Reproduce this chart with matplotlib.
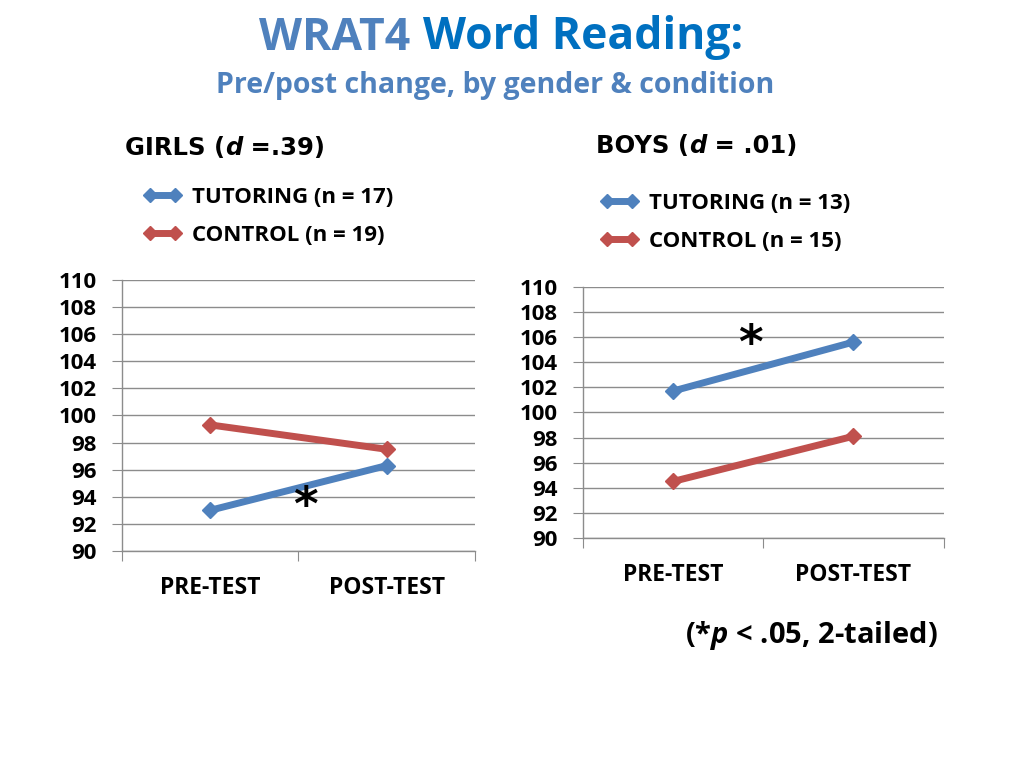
import matplotlib.pyplot as plt
from matplotlib.lines import Line2D

plt.rcParams['font.family'] = ['Open Sans', 'DejaVu Sans']
plt.rcParams['mathtext.fontset'] = 'custom'
plt.rcParams['mathtext.it'] = 'Open Sans:italic:bold'
plt.rcParams['mathtext.rm'] = 'Open Sans:bold'

# data
tests = ['PRE-TEST', 'POST-TEST']
girls_tutoring = [93.0, 96.3]
girls_control = [99.3, 97.5]
boys_tutoring = [101.7, 105.6]
boys_control = [94.5, 98.1]
girls_labels = ['TUTORING (n = 17)', 'CONTROL (n = 19)']
boys_labels = ['TUTORING (n = 13)', 'CONTROL (n = 15)']
yticks = list(range(90, 111, 2))

blue = '#4F81BD'
red = '#C0504D'
grid_col = '#8C8C8C'

fig = plt.figure(figsize=(10.24, 7.68), dpi=100)
fig.patch.set_facecolor('white')


def panel(rect, tut, ctl):
    ax = fig.add_axes(rect)
    x = range(len(tests))
    ax.plot(x, tut, color=blue, lw=5, marker='D', ms=8, mec=blue)
    ax.plot(x, ctl, color=red, lw=5, marker='D', ms=8, mec=red)
    ax.set_xlim(-0.5, 1.5)
    ax.set_ylim(90, 110)
    ax.set_yticks(yticks)
    ax.set_yticklabels([str(t) for t in yticks], fontsize=16, fontweight='bold')
    ax.set_xticks([-0.5, 0.5, 1.5])
    ax.set_xticklabels([])
    ax.set_xticks([0, 1], minor=True)
    ax.set_xticklabels(tests, minor=True, fontsize=16.5, fontweight='bold')
    ax.tick_params(axis='x', which='minor', length=0, pad=18)
    ax.tick_params(axis='x', which='major', length=7, color=grid_col, direction='out')
    ax.tick_params(axis='y', length=7, color=grid_col, pad=11)
    ax.yaxis.grid(True, color=grid_col, lw=1)
    ax.set_axisbelow(True)
    for s in ['top', 'right']:
        ax.spines[s].set_visible(False)
    for s in ['left', 'bottom']:
        ax.spines[s].set_color(grid_col)
        ax.spines[s].set_linewidth(1)
    return ax


ax1 = panel([0.119, 0.2826, 0.345, 0.353], girls_tutoring, girls_control)
ax2 = panel([0.569, 0.2995, 0.3525, 0.327], boys_tutoring, boys_control)

ax1.text(0.54, 93.2, '*', fontsize=34, fontweight='bold', ha='center', va='center',
         family='DejaVu Sans')
ax2.text(0.43, 105.3, '*', fontsize=34, fontweight='bold', ha='center', va='center',
         family='DejaVu Sans')

# titles
fig.text(410 / 1024, 1 - 38 / 768, 'WRAT4', color='#4F81BD', fontsize=32,
         fontweight='bold', ha='right', va='center')
fig.text(423 / 1024, 1 - 38 / 768, 'Word Reading:', color='#0070C0', fontsize=32,
         fontweight='bold', ha='left', va='center')
fig.text(495 / 1024, 1 - 86 / 768, 'Pre/post change, by gender & condition',
         color='#4F81BD', fontsize=20.5, fontweight='bold', ha='center', va='center')


def head(x, y, first, rest):
    # panel heading with a bold italic "d" in the middle
    t = fig.text(x, y, first, fontsize=17.5, fontweight='bold', ha='left', va='center',
                 family='DejaVu Sans')
    fig.canvas.draw()
    bb = t.get_window_extent()
    t2 = fig.text(bb.x1 / fig.bbox.width, y, 'd', fontsize=17.5, fontweight='bold',
                  style='italic', ha='left', va='center', family='DejaVu Sans')
    fig.canvas.draw()
    bb2 = t2.get_window_extent()
    fig.text(bb2.x1 / fig.bbox.width, y, rest, fontsize=17.5, fontweight='bold',
             ha='left', va='center', family='DejaVu Sans')


head(125 / 1024, 1 - 148 / 768, 'GIRLS (', ' =.39)')
head(596 / 1024, 1 - 146 / 768, 'BOYS (', ' = .01)')

handles = [Line2D([], [], color=blue, lw=5, marker='D', ms=7),
           Line2D([], [], color=red, lw=5, marker='D', ms=7)]
leg_kw = dict(loc='upper left', frameon=False, handlelength=1.75, handletextpad=0.45,
              labelspacing=0.75, borderpad=0, borderaxespad=0, numpoints=2,
              prop={'size': 16, 'weight': 'bold'})
fig.legend(handles, girls_labels, bbox_to_anchor=(143 / 1024, 1 - 187 / 768), **leg_kw)
fig.legend(handles, boys_labels, bbox_to_anchor=(600 / 1024, 1 - 193 / 768), **leg_kw)

fig.text(811 / 1024, 1 - 635 / 768, r'(*$p$ < .05, 2-tailed)', fontsize=21,
         fontweight='bold', ha='center', va='center')

fig.savefig('out.png', dpi=100, facecolor='white')
